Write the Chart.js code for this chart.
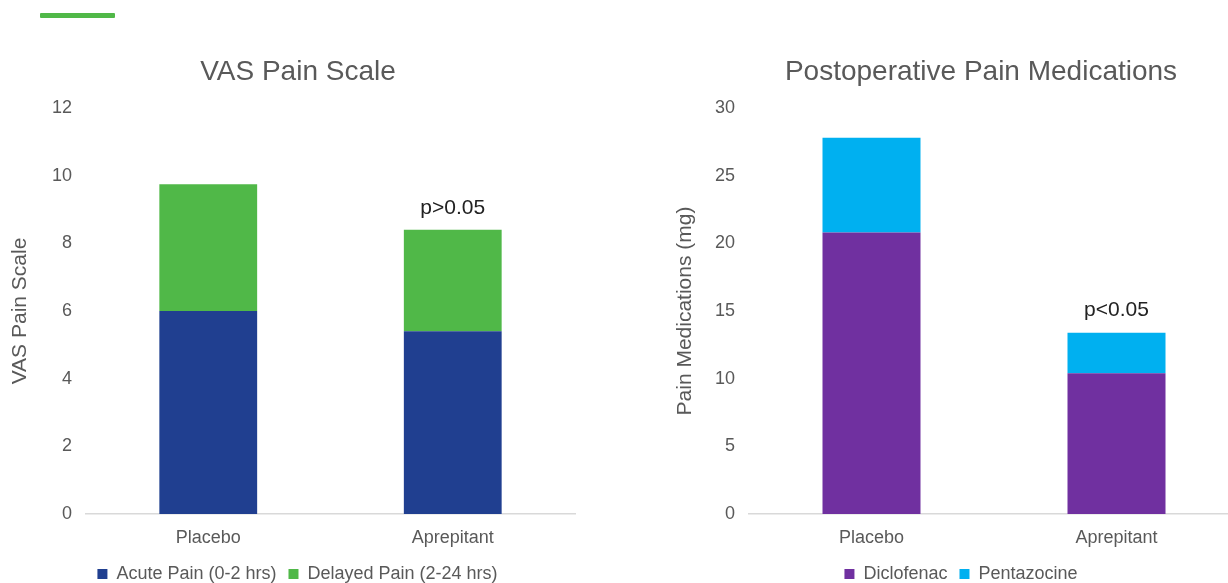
<!DOCTYPE html>
<html>
<head>
<meta charset="utf-8">
<script src="https://cdn.jsdelivr.net/npm/chart.js@4.4.1/dist/chart.umd.min.js"></script>
<style>
  html, body { margin: 0; padding: 0; background: #fff; overflow: hidden; }
  body { width: 1228px; height: 583px; position: relative; }
  .accent { position: absolute; left: 40px; top: 13px; width: 75px; height: 5px; background: #50b848; border-radius: 1px; }
  .panel { position: absolute; top: 0; width: 600px; height: 593px; }
  #left { left: 0; }
  #right { left: 640px; }
</style>
</head>
<body>
<div class="accent"></div>
<div class="panel" id="left"><canvas id="vas"></canvas></div>
<div class="panel" id="right"><canvas id="meds"></canvas></div>
<script>
// Study arms
const categories = ['Placebo', 'Aprepitant'];

// VAS pain scores, stacked by time window
const acutePain = [6.0, 5.4];
const delayedPain = [3.75, 3.0];
const vasSignificance = ['', 'p>0.05'];

// Postoperative analgesic consumption (mg), stacked by drug
const diclofenac = [20.8, 10.4];
const pentazocine = [7.0, 3.0];
const medsSignificance = ['', 'p<0.05'];

const FONT = "'Liberation Sans', Arial, sans-serif";
const GREY = '#595959';

// Writes a significance note above each stacked bar total
const significancePlugin = {
  id: 'significance',
  afterDatasetsDraw(chart, args, opts) {
    const labels = opts.labels || [];
    const { ctx } = chart;
    const x = chart.scales.x, y = chart.scales.y;
    ctx.save();
    ctx.font = '21px ' + FONT;
    ctx.fillStyle = '#222222';
    ctx.textAlign = 'center';
    ctx.textBaseline = 'middle';
    labels.forEach((text, i) => {
      if (!text) return;
      const total = chart.data.datasets.reduce((s, d) => s + d.data[i], 0);
      ctx.fillText(text, x.getPixelForValue(i), y.getPixelForValue(total) - 22);
    });
    ctx.restore();
  }
};

// Panel heading, placed at its own centre line above the plot
const headingPlugin = {
  id: 'heading',
  afterDraw(chart, args, opts) {
    const { ctx } = chart;
    ctx.save();
    ctx.font = '28px ' + FONT;
    ctx.fillStyle = GREY;
    ctx.textAlign = 'center';
    ctx.textBaseline = 'middle';
    ctx.fillText(opts.text, opts.x, opts.y);
    ctx.restore();
  }
};

function makeChart(id, cfg) {
  return new Chart(document.getElementById(id), {
    type: 'bar',
    data: {
      labels: categories,
      datasets: cfg.datasets.map(d => ({
        label: d.label,
        data: d.data,
        backgroundColor: d.color,
        borderWidth: 0,
        barPercentage: 0.4,
        categoryPercentage: 1.0
      }))
    },
    options: {
      responsive: false,
      animation: false,
      layout: { padding: { left: cfg.padLeft, right: cfg.padRight, top: 108, bottom: 0 } },
      plugins: {
        title: { display: false },
        legend: {
          position: 'bottom',
          labels: {
            color: GREY,
            font: { family: FONT, size: 18 },
            boxWidth: 10,
            boxHeight: 10,
            padding: 12
          }
        },
        tooltip: { enabled: false },
        significance: { labels: cfg.significance },
        heading: { text: cfg.title, x: cfg.titleX, y: 72 }
      },
      scales: {
        x: {
          stacked: true,
          grid: { display: false, drawTicks: false },
          border: { display: true, color: '#d9d9d9', width: 1.5 },
          ticks: { color: GREY, font: { family: FONT, size: 18 }, padding: 13 },
          afterFit(axis) { axis.height = 39; }
        },
        y: {
          stacked: true,
          min: 0,
          max: cfg.max,
          grid: { display: false, drawTicks: false },
          border: { display: false },
          ticks: { stepSize: cfg.step, color: GREY, font: { family: FONT, size: 18 }, padding: 14 },
          title: {
            display: true,
            text: cfg.yTitle,
            color: GREY,
            font: { family: FONT, size: 21 },
            padding: { top: cfg.yTitleOffset, bottom: 4 }
          },
          afterFit(axis) { axis.width = cfg.axisWidth; }
        }
      }
    },
    plugins: [significancePlugin, headingPlugin]
  });
}

function sizeCanvas(id) {
  const c = document.getElementById(id);
  c.width = 600; c.height = 593;
  c.style.width = '600px'; c.style.height = '593px';
}
sizeCanvas('vas');
sizeCanvas('meds');

makeChart('vas', {
  title: 'VAS Pain Scale', titleX: 298,
  yTitle: 'VAS Pain Scale', yTitleOffset: -12.6,
  max: 12, step: 2,
  padLeft: 20, padRight: 25, axisWidth: 66,
  significance: vasSignificance,
  datasets: [
    { label: 'Acute Pain (0-2 hrs)', data: acutePain, color: '#203f90' },
    { label: 'Delayed Pain (2-24 hrs)', data: delayedPain, color: '#50b848' }
  ]
});

makeChart('meds', {
  title: 'Postoperative Pain Medications', titleX: 341,
  yTitle: 'Pain Medications (mg)', yTitleOffset: -10.6,
  max: 30, step: 5,
  padLeft: 43, padRight: 1, axisWidth: 66,
  significance: medsSignificance,
  datasets: [
    { label: 'Diclofenac', data: diclofenac, color: '#7030a0' },
    { label: 'Pentazocine', data: pentazocine, color: '#00b0f0' }
  ]
});
</script>
</body>
</html>
